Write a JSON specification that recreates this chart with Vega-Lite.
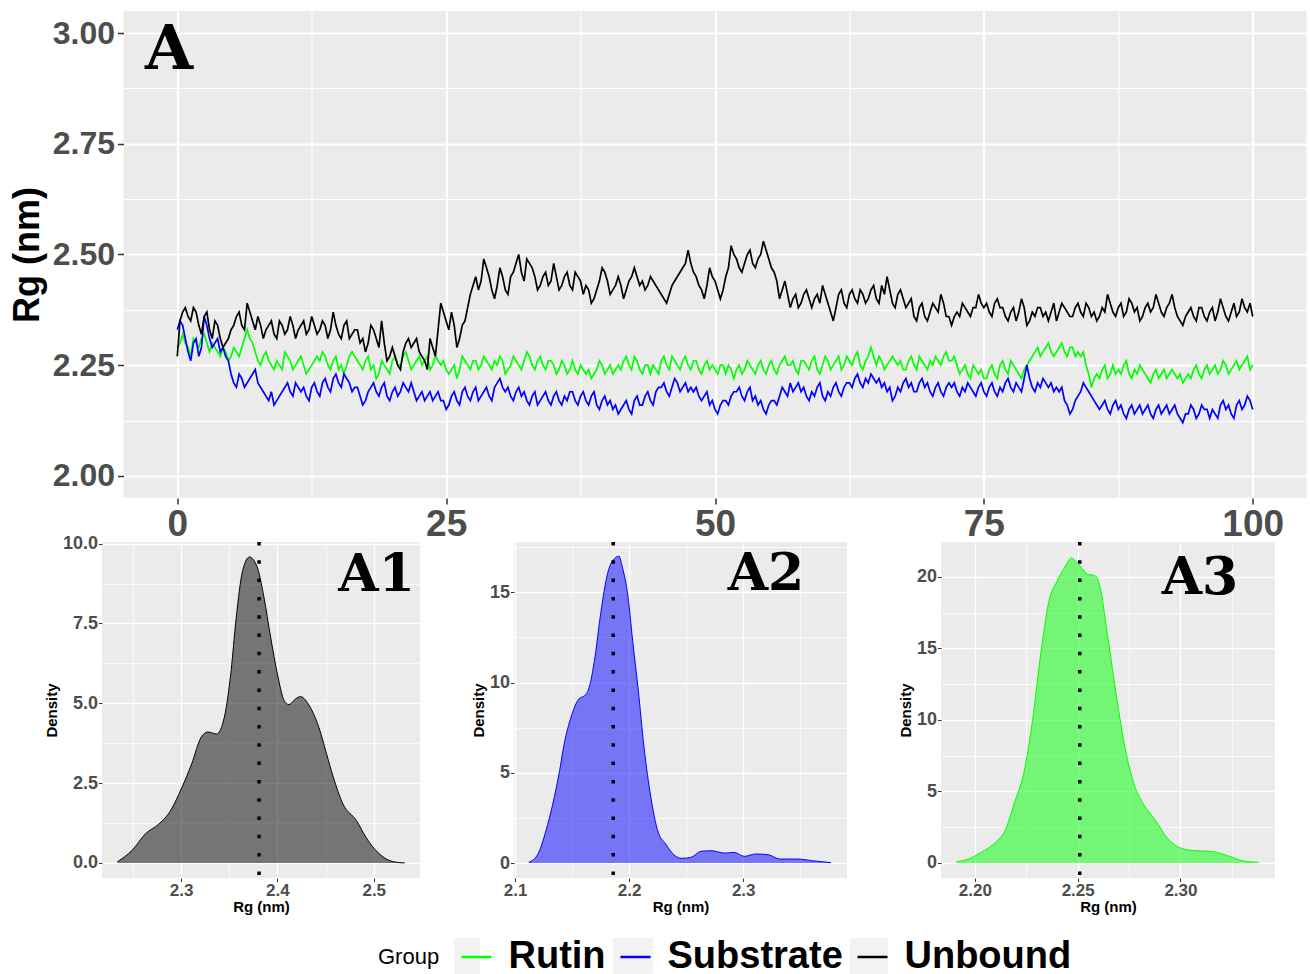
{
"$schema": "https://vega.github.io/schema/vega-lite/v6.json",
"padding": {"left": 9, "top": 11, "right": 2, "bottom": 0},
"background": "white",
"config": {
  "font": "Liberation Sans",
  "view": {"stroke": null},
  "axis": {"domain": false, "grid": true, "gridColor": "white", "tickColor": "#333333", "labelColor": "#4d4d4d", "labelFontWeight": "bold", "titleColor": "black", "titleFontWeight": "bold", "labelFont": "Liberation Sans", "titleFont": "Liberation Sans", "labelFlush": false, "labelOverlap": false}
},
"datasets": {
"ts": [
{"t":0,"Rutin":2.29,"Substrate":2.33,"Unbound":2.27},
{"t":0.5,"Rutin":2.32,"Substrate":2.34,"Unbound":2.37},
{"t":1,"Rutin":2.29,"Substrate":2.28,"Unbound":2.36},
{"t":1.5,"Rutin":2.31,"Substrate":2.30,"Unbound":2.38},
{"t":2,"Rutin":2.29,"Substrate":2.27,"Unbound":2.34},
{"t":2.5,"Rutin":2.32,"Substrate":2.36,"Unbound":2.36},
{"t":3,"Rutin":2.28,"Substrate":2.31,"Unbound":2.33},
{"t":3.5,"Rutin":2.29,"Substrate":2.30,"Unbound":2.35},
{"t":4,"Rutin":2.27,"Substrate":2.28,"Unbound":2.31},
{"t":4.5,"Rutin":2.28,"Substrate":2.27,"Unbound":2.30},
{"t":5,"Rutin":2.27,"Substrate":2.23,"Unbound":2.33},
{"t":5.5,"Rutin":2.28,"Substrate":2.20,"Unbound":2.36},
{"t":6,"Rutin":2.29,"Substrate":2.22,"Unbound":2.34},
{"t":6.5,"Rutin":2.33,"Substrate":2.21,"Unbound":2.39},
{"t":7,"Rutin":2.30,"Substrate":2.23,"Unbound":2.35},
{"t":7.5,"Rutin":2.26,"Substrate":2.21,"Unbound":2.36},
{"t":8,"Rutin":2.27,"Substrate":2.19,"Unbound":2.31},
{"t":8.5,"Rutin":2.26,"Substrate":2.17,"Unbound":2.34},
{"t":9,"Rutin":2.24,"Substrate":2.16,"Unbound":2.32},
{"t":9.5,"Rutin":2.25,"Substrate":2.18,"Unbound":2.35},
{"t":10,"Rutin":2.28,"Substrate":2.20,"Unbound":2.32},
{"t":10.5,"Rutin":2.26,"Substrate":2.19,"Unbound":2.36},
{"t":11,"Rutin":2.25,"Substrate":2.21,"Unbound":2.31},
{"t":11.5,"Rutin":2.27,"Substrate":2.19,"Unbound":2.34},
{"t":12,"Rutin":2.23,"Substrate":2.18,"Unbound":2.32},
{"t":12.5,"Rutin":2.25,"Substrate":2.20,"Unbound":2.36},
{"t":13,"Rutin":2.27,"Substrate":2.19,"Unbound":2.32},
{"t":13.5,"Rutin":2.28,"Substrate":2.21,"Unbound":2.35},
{"t":14,"Rutin":2.25,"Substrate":2.20,"Unbound":2.31},
{"t":14.5,"Rutin":2.26,"Substrate":2.22,"Unbound":2.37},
{"t":15,"Rutin":2.24,"Substrate":2.21,"Unbound":2.32},
{"t":15.5,"Rutin":2.23,"Substrate":2.23,"Unbound":2.34},
{"t":16,"Rutin":2.27,"Substrate":2.21,"Unbound":2.31},
{"t":16.5,"Rutin":2.27,"Substrate":2.20,"Unbound":2.33},
{"t":17,"Rutin":2.25,"Substrate":2.18,"Unbound":2.30},
{"t":17.5,"Rutin":2.26,"Substrate":2.17,"Unbound":2.28},
{"t":18,"Rutin":2.24,"Substrate":2.20,"Unbound":2.34},
{"t":18.5,"Rutin":2.22,"Substrate":2.19,"Unbound":2.31},
{"t":19,"Rutin":2.26,"Substrate":2.20,"Unbound":2.35},
{"t":19.5,"Rutin":2.24,"Substrate":2.18,"Unbound":2.26},
{"t":20,"Rutin":2.26,"Substrate":2.19,"Unbound":2.29},
{"t":20.5,"Rutin":2.25,"Substrate":2.18,"Unbound":2.25},
{"t":21,"Rutin":2.27,"Substrate":2.21,"Unbound":2.28},
{"t":21.5,"Rutin":2.26,"Substrate":2.19,"Unbound":2.31},
{"t":22,"Rutin":2.25,"Substrate":2.19,"Unbound":2.30},
{"t":22.5,"Rutin":2.27,"Substrate":2.18,"Unbound":2.28},
{"t":23,"Rutin":2.26,"Substrate":2.17,"Unbound":2.26},
{"t":23.5,"Rutin":2.24,"Substrate":2.19,"Unbound":2.31},
{"t":24,"Rutin":2.27,"Substrate":2.18,"Unbound":2.27},
{"t":24.5,"Rutin":2.25,"Substrate":2.17,"Unbound":2.39},
{"t":25,"Rutin":2.24,"Substrate":2.15,"Unbound":2.35},
{"t":25.5,"Rutin":2.24,"Substrate":2.18,"Unbound":2.37},
{"t":26,"Rutin":2.22,"Substrate":2.17,"Unbound":2.29},
{"t":26.5,"Rutin":2.27,"Substrate":2.19,"Unbound":2.34},
{"t":27,"Rutin":2.25,"Substrate":2.18,"Unbound":2.38},
{"t":27.5,"Rutin":2.26,"Substrate":2.19,"Unbound":2.43},
{"t":28,"Rutin":2.24,"Substrate":2.17,"Unbound":2.42},
{"t":28.5,"Rutin":2.27,"Substrate":2.19,"Unbound":2.49},
{"t":29,"Rutin":2.25,"Substrate":2.18,"Unbound":2.45},
{"t":29.5,"Rutin":2.26,"Substrate":2.20,"Unbound":2.40},
{"t":30,"Rutin":2.27,"Substrate":2.22,"Unbound":2.47},
{"t":30.5,"Rutin":2.23,"Substrate":2.19,"Unbound":2.42},
{"t":31,"Rutin":2.25,"Substrate":2.18,"Unbound":2.45},
{"t":31.5,"Rutin":2.26,"Substrate":2.19,"Unbound":2.48},
{"t":32,"Rutin":2.24,"Substrate":2.18,"Unbound":2.46},
{"t":32.5,"Rutin":2.28,"Substrate":2.17,"Unbound":2.49},
{"t":33,"Rutin":2.25,"Substrate":2.18,"Unbound":2.47},
{"t":33.5,"Rutin":2.26,"Substrate":2.16,"Unbound":2.42},
{"t":34,"Rutin":2.25,"Substrate":2.18,"Unbound":2.45},
{"t":34.5,"Rutin":2.26,"Substrate":2.17,"Unbound":2.43},
{"t":35,"Rutin":2.25,"Substrate":2.18,"Unbound":2.48},
{"t":35.5,"Rutin":2.24,"Substrate":2.17,"Unbound":2.42},
{"t":36,"Rutin":2.25,"Substrate":2.18,"Unbound":2.45},
{"t":36.5,"Rutin":2.24,"Substrate":2.19,"Unbound":2.43},
{"t":37,"Rutin":2.24,"Substrate":2.17,"Unbound":2.46},
{"t":37.5,"Rutin":2.25,"Substrate":2.18,"Unbound":2.44},
{"t":38,"Rutin":2.23,"Substrate":2.17,"Unbound":2.43},
{"t":38.5,"Rutin":2.22,"Substrate":2.18,"Unbound":2.39},
{"t":39,"Rutin":2.24,"Substrate":2.16,"Unbound":2.42},
{"t":39.5,"Rutin":2.25,"Substrate":2.17,"Unbound":2.47},
{"t":40,"Rutin":2.24,"Substrate":2.16,"Unbound":2.44},
{"t":40.5,"Rutin":2.23,"Substrate":2.15,"Unbound":2.42},
{"t":41,"Rutin":2.25,"Substrate":2.14,"Unbound":2.45},
{"t":41.5,"Rutin":2.26,"Substrate":2.16,"Unbound":2.40},
{"t":42,"Rutin":2.25,"Substrate":2.15,"Unbound":2.44},
{"t":42.5,"Rutin":2.27,"Substrate":2.17,"Unbound":2.47},
{"t":43,"Rutin":2.24,"Substrate":2.16,"Unbound":2.43},
{"t":43.5,"Rutin":2.25,"Substrate":2.18,"Unbound":2.42},
{"t":44,"Rutin":2.23,"Substrate":2.17,"Unbound":2.45},
{"t":44.5,"Rutin":2.24,"Substrate":2.19,"Unbound":2.43},
{"t":45,"Rutin":2.26,"Substrate":2.20,"Unbound":2.41},
{"t":45.5,"Rutin":2.25,"Substrate":2.19,"Unbound":2.39},
{"t":46,"Rutin":2.27,"Substrate":2.20,"Unbound":2.43},
{"t":46.5,"Rutin":2.25,"Substrate":2.21,"Unbound":2.45},
{"t":47,"Rutin":2.26,"Substrate":2.20,"Unbound":2.47},
{"t":47.5,"Rutin":2.25,"Substrate":2.19,"Unbound":2.51},
{"t":48,"Rutin":2.26,"Substrate":2.19,"Unbound":2.46},
{"t":48.5,"Rutin":2.24,"Substrate":2.18,"Unbound":2.43},
{"t":49,"Rutin":2.25,"Substrate":2.18,"Unbound":2.40},
{"t":49.5,"Rutin":2.24,"Substrate":2.16,"Unbound":2.47},
{"t":50,"Rutin":2.24,"Substrate":2.15,"Unbound":2.44},
{"t":50.5,"Rutin":2.25,"Substrate":2.16,"Unbound":2.40},
{"t":51,"Rutin":2.23,"Substrate":2.17,"Unbound":2.45},
{"t":51.5,"Rutin":2.24,"Substrate":2.18,"Unbound":2.52},
{"t":52,"Rutin":2.24,"Substrate":2.19,"Unbound":2.49},
{"t":52.5,"Rutin":2.23,"Substrate":2.18,"Unbound":2.46},
{"t":53,"Rutin":2.26,"Substrate":2.19,"Unbound":2.50},
{"t":53.5,"Rutin":2.24,"Substrate":2.17,"Unbound":2.48},
{"t":54,"Rutin":2.25,"Substrate":2.16,"Unbound":2.49},
{"t":54.5,"Rutin":2.24,"Substrate":2.15,"Unbound":2.53},
{"t":55,"Rutin":2.25,"Substrate":2.16,"Unbound":2.49},
{"t":55.5,"Rutin":2.24,"Substrate":2.17,"Unbound":2.46},
{"t":56,"Rutin":2.25,"Substrate":2.18,"Unbound":2.40},
{"t":56.5,"Rutin":2.27,"Substrate":2.19,"Unbound":2.44},
{"t":57,"Rutin":2.25,"Substrate":2.21,"Unbound":2.38},
{"t":57.5,"Rutin":2.24,"Substrate":2.20,"Unbound":2.41},
{"t":58,"Rutin":2.26,"Substrate":2.19,"Unbound":2.39},
{"t":58.5,"Rutin":2.25,"Substrate":2.18,"Unbound":2.42},
{"t":59,"Rutin":2.26,"Substrate":2.19,"Unbound":2.38},
{"t":59.5,"Rutin":2.24,"Substrate":2.20,"Unbound":2.41},
{"t":60,"Rutin":2.25,"Substrate":2.18,"Unbound":2.43},
{"t":60.5,"Rutin":2.26,"Substrate":2.19,"Unbound":2.39},
{"t":61,"Rutin":2.25,"Substrate":2.20,"Unbound":2.35},
{"t":61.5,"Rutin":2.27,"Substrate":2.19,"Unbound":2.41},
{"t":62,"Rutin":2.25,"Substrate":2.20,"Unbound":2.39},
{"t":62.5,"Rutin":2.26,"Substrate":2.21,"Unbound":2.41},
{"t":63,"Rutin":2.27,"Substrate":2.22,"Unbound":2.40},
{"t":63.5,"Rutin":2.25,"Substrate":2.21,"Unbound":2.42},
{"t":64,"Rutin":2.26,"Substrate":2.22,"Unbound":2.39},
{"t":64.5,"Rutin":2.29,"Substrate":2.23,"Unbound":2.42},
{"t":65,"Rutin":2.25,"Substrate":2.21,"Unbound":2.40},
{"t":65.5,"Rutin":2.26,"Substrate":2.20,"Unbound":2.43},
{"t":66,"Rutin":2.25,"Substrate":2.19,"Unbound":2.45},
{"t":66.5,"Rutin":2.27,"Substrate":2.17,"Unbound":2.39},
{"t":67,"Rutin":2.25,"Substrate":2.20,"Unbound":2.41},
{"t":67.5,"Rutin":2.24,"Substrate":2.21,"Unbound":2.40},
{"t":68,"Rutin":2.26,"Substrate":2.20,"Unbound":2.39},
{"t":68.5,"Rutin":2.25,"Substrate":2.19,"Unbound":2.36},
{"t":69,"Rutin":2.27,"Substrate":2.21,"Unbound":2.38},
{"t":69.5,"Rutin":2.25,"Substrate":2.20,"Unbound":2.36},
{"t":70,"Rutin":2.26,"Substrate":2.19,"Unbound":2.37},
{"t":70.5,"Rutin":2.27,"Substrate":2.20,"Unbound":2.38},
{"t":71,"Rutin":2.25,"Substrate":2.19,"Unbound":2.41},
{"t":71.5,"Rutin":2.28,"Substrate":2.20,"Unbound":2.36},
{"t":72,"Rutin":2.26,"Substrate":2.20,"Unbound":2.34},
{"t":72.5,"Rutin":2.25,"Substrate":2.19,"Unbound":2.37},
{"t":73,"Rutin":2.24,"Substrate":2.20,"Unbound":2.39},
{"t":73.5,"Rutin":2.23,"Substrate":2.21,"Unbound":2.37},
{"t":74,"Rutin":2.25,"Substrate":2.19,"Unbound":2.38},
{"t":74.5,"Rutin":2.23,"Substrate":2.20,"Unbound":2.41},
{"t":75,"Rutin":2.22,"Substrate":2.19,"Unbound":2.38},
{"t":75.5,"Rutin":2.24,"Substrate":2.20,"Unbound":2.37},
{"t":76,"Rutin":2.23,"Substrate":2.19,"Unbound":2.39},
{"t":76.5,"Rutin":2.25,"Substrate":2.20,"Unbound":2.38},
{"t":77,"Rutin":2.24,"Substrate":2.21,"Unbound":2.36},
{"t":77.5,"Rutin":2.26,"Substrate":2.20,"Unbound":2.37},
{"t":78,"Rutin":2.24,"Substrate":2.21,"Unbound":2.35},
{"t":78.5,"Rutin":2.22,"Substrate":2.19,"Unbound":2.40},
{"t":79,"Rutin":2.25,"Substrate":2.25,"Unbound":2.34},
{"t":79.5,"Rutin":2.27,"Substrate":2.20,"Unbound":2.37},
{"t":80,"Rutin":2.29,"Substrate":2.21,"Unbound":2.38},
{"t":80.5,"Rutin":2.28,"Substrate":2.22,"Unbound":2.36},
{"t":81,"Rutin":2.30,"Substrate":2.20,"Unbound":2.35},
{"t":81.5,"Rutin":2.27,"Substrate":2.19,"Unbound":2.39},
{"t":82,"Rutin":2.29,"Substrate":2.19,"Unbound":2.37},
{"t":82.5,"Rutin":2.28,"Substrate":2.17,"Unbound":2.38},
{"t":83,"Rutin":2.29,"Substrate":2.14,"Unbound":2.36},
{"t":83.5,"Rutin":2.27,"Substrate":2.17,"Unbound":2.38},
{"t":84,"Rutin":2.27,"Substrate":2.19,"Unbound":2.37},
{"t":84.5,"Rutin":2.25,"Substrate":2.20,"Unbound":2.39},
{"t":85,"Rutin":2.20,"Substrate":2.18,"Unbound":2.36},
{"t":85.5,"Rutin":2.23,"Substrate":2.16,"Unbound":2.35},
{"t":86,"Rutin":2.24,"Substrate":2.16,"Unbound":2.38},
{"t":86.5,"Rutin":2.22,"Substrate":2.15,"Unbound":2.41},
{"t":87,"Rutin":2.25,"Substrate":2.16,"Unbound":2.37},
{"t":87.5,"Rutin":2.24,"Substrate":2.15,"Unbound":2.38},
{"t":88,"Rutin":2.25,"Substrate":2.14,"Unbound":2.36},
{"t":88.5,"Rutin":2.23,"Substrate":2.15,"Unbound":2.40},
{"t":89,"Rutin":2.24,"Substrate":2.14,"Unbound":2.37},
{"t":89.5,"Rutin":2.25,"Substrate":2.16,"Unbound":2.35},
{"t":90,"Rutin":2.23,"Substrate":2.15,"Unbound":2.38},
{"t":90.5,"Rutin":2.21,"Substrate":2.14,"Unbound":2.37},
{"t":91,"Rutin":2.24,"Substrate":2.15,"Unbound":2.41},
{"t":91.5,"Rutin":2.23,"Substrate":2.14,"Unbound":2.37},
{"t":92,"Rutin":2.22,"Substrate":2.16,"Unbound":2.38},
{"t":92.5,"Rutin":2.24,"Substrate":2.15,"Unbound":2.41},
{"t":93,"Rutin":2.22,"Substrate":2.14,"Unbound":2.36},
{"t":93.5,"Rutin":2.21,"Substrate":2.12,"Unbound":2.34},
{"t":94,"Rutin":2.23,"Substrate":2.14,"Unbound":2.37},
{"t":94.5,"Rutin":2.24,"Substrate":2.15,"Unbound":2.36},
{"t":95,"Rutin":2.23,"Substrate":2.14,"Unbound":2.38},
{"t":95.5,"Rutin":2.24,"Substrate":2.15,"Unbound":2.36},
{"t":96,"Rutin":2.23,"Substrate":2.13,"Unbound":2.37},
{"t":96.5,"Rutin":2.25,"Substrate":2.14,"Unbound":2.35},
{"t":97,"Rutin":2.24,"Substrate":2.16,"Unbound":2.40},
{"t":97.5,"Rutin":2.25,"Substrate":2.15,"Unbound":2.36},
{"t":98,"Rutin":2.24,"Substrate":2.14,"Unbound":2.37},
{"t":98.5,"Rutin":2.26,"Substrate":2.16,"Unbound":2.36},
{"t":99,"Rutin":2.25,"Substrate":2.15,"Unbound":2.40},
{"t":99.5,"Rutin":2.27,"Substrate":2.18,"Unbound":2.37},
{"t":100,"Rutin":2.25,"Substrate":2.15,"Unbound":2.36},
{"t":0.25,"Rutin":2.30,"Substrate":2.35,"Unbound":2.35},
{"t":0.75,"Rutin":2.30,"Substrate":2.31,"Unbound":2.38},
{"t":1.25,"Rutin":2.27,"Substrate":2.26,"Unbound":2.35},
{"t":1.75,"Rutin":2.30,"Substrate":2.31,"Unbound":2.37},
{"t":2.25,"Rutin":2.31,"Substrate":2.29,"Unbound":2.32},
{"t":2.75,"Rutin":2.30,"Substrate":2.34,"Unbound":2.37},
{"t":3.25,"Rutin":2.30,"Substrate":2.29,"Unbound":2.31},
{"t":3.75,"Rutin":2.28,"Substrate":2.31,"Unbound":2.34},
{"t":4.25,"Rutin":2.29,"Substrate":2.29,"Unbound":2.29},
{"t":4.75,"Rutin":2.26,"Substrate":2.26,"Unbound":2.31},
{"t":5.25,"Rutin":2.29,"Substrate":2.21,"Unbound":2.34},
{"t":5.75,"Rutin":2.27,"Substrate":2.23,"Unbound":2.37},
{"t":6.25,"Rutin":2.31,"Substrate":2.20,"Unbound":2.33},
{"t":6.75,"Rutin":2.31,"Substrate":2.22,"Unbound":2.37},
{"t":7.25,"Rutin":2.28,"Substrate":2.24,"Unbound":2.33},
{"t":7.75,"Rutin":2.25,"Substrate":2.20,"Unbound":2.34},
{"t":8.25,"Rutin":2.28,"Substrate":2.18,"Unbound":2.33},
{"t":8.75,"Rutin":2.25,"Substrate":2.19,"Unbound":2.35},
{"t":9.25,"Rutin":2.26,"Substrate":2.17,"Unbound":2.31},
{"t":9.75,"Rutin":2.24,"Substrate":2.19,"Unbound":2.34},
{"t":10.25,"Rutin":2.27,"Substrate":2.21,"Unbound":2.33},
{"t":10.75,"Rutin":2.24,"Substrate":2.18,"Unbound":2.34},
{"t":11.25,"Rutin":2.26,"Substrate":2.20,"Unbound":2.33},
{"t":11.75,"Rutin":2.25,"Substrate":2.20,"Unbound":2.35},
{"t":12.25,"Rutin":2.24,"Substrate":2.17,"Unbound":2.33},
{"t":12.75,"Rutin":2.26,"Substrate":2.21,"Unbound":2.34},
{"t":13.25,"Rutin":2.26,"Substrate":2.18,"Unbound":2.33},
{"t":13.75,"Rutin":2.27,"Substrate":2.22,"Unbound":2.34},
{"t":14.25,"Rutin":2.24,"Substrate":2.19,"Unbound":2.33},
{"t":14.75,"Rutin":2.27,"Substrate":2.23,"Unbound":2.34},
{"t":15.25,"Rutin":2.25,"Substrate":2.20,"Unbound":2.31},
{"t":15.75,"Rutin":2.25,"Substrate":2.22,"Unbound":2.35},
{"t":16.25,"Rutin":2.28,"Substrate":2.19,"Unbound":2.32},
{"t":16.75,"Rutin":2.26,"Substrate":2.20,"Unbound":2.33},
{"t":17.25,"Rutin":2.24,"Substrate":2.16,"Unbound":2.31},
{"t":17.75,"Rutin":2.27,"Substrate":2.19,"Unbound":2.30},
{"t":18.25,"Rutin":2.25,"Substrate":2.21,"Unbound":2.33},
{"t":18.75,"Rutin":2.23,"Substrate":2.18,"Unbound":2.29},
{"t":19.25,"Rutin":2.25,"Substrate":2.21,"Unbound":2.30},
{"t":19.75,"Rutin":2.23,"Substrate":2.17,"Unbound":2.27},
{"t":20.25,"Rutin":2.27,"Substrate":2.20,"Unbound":2.27},
{"t":20.75,"Rutin":2.25,"Substrate":2.19,"Unbound":2.24},
{"t":21.25,"Rutin":2.28,"Substrate":2.20,"Unbound":2.30},
{"t":21.75,"Rutin":2.24,"Substrate":2.21,"Unbound":2.29},
{"t":22.25,"Rutin":2.26,"Substrate":2.17,"Unbound":2.31},
{"t":22.75,"Rutin":2.25,"Substrate":2.19,"Unbound":2.27},
{"t":23.25,"Rutin":2.27,"Substrate":2.18,"Unbound":2.24},
{"t":23.75,"Rutin":2.25,"Substrate":2.17,"Unbound":2.29},
{"t":24.25,"Rutin":2.26,"Substrate":2.19,"Unbound":2.33},
{"t":24.75,"Rutin":2.26,"Substrate":2.17,"Unbound":2.37},
{"t":25.25,"Rutin":2.23,"Substrate":2.16,"Unbound":2.33},
{"t":25.75,"Rutin":2.25,"Substrate":2.19,"Unbound":2.34},
{"t":26.25,"Rutin":2.24,"Substrate":2.16,"Unbound":2.31},
{"t":26.75,"Rutin":2.26,"Substrate":2.20,"Unbound":2.35},
{"t":27.25,"Rutin":2.24,"Substrate":2.17,"Unbound":2.41},
{"t":27.75,"Rutin":2.26,"Substrate":2.20,"Unbound":2.45},
{"t":28.25,"Rutin":2.25,"Substrate":2.18,"Unbound":2.44},
{"t":28.75,"Rutin":2.26,"Substrate":2.20,"Unbound":2.47},
{"t":29.25,"Rutin":2.24,"Substrate":2.17,"Unbound":2.42},
{"t":29.75,"Rutin":2.25,"Substrate":2.21,"Unbound":2.43},
{"t":30.25,"Rutin":2.26,"Substrate":2.20,"Unbound":2.45},
{"t":30.75,"Rutin":2.24,"Substrate":2.20,"Unbound":2.41},
{"t":31.25,"Rutin":2.27,"Substrate":2.17,"Unbound":2.46},
{"t":31.75,"Rutin":2.25,"Substrate":2.20,"Unbound":2.50},
{"t":32.25,"Rutin":2.26,"Substrate":2.19,"Unbound":2.44},
{"t":32.75,"Rutin":2.27,"Substrate":2.16,"Unbound":2.48},
{"t":33.25,"Rutin":2.24,"Substrate":2.19,"Unbound":2.45},
{"t":33.75,"Rutin":2.27,"Substrate":2.17,"Unbound":2.43},
{"t":34.25,"Rutin":2.24,"Substrate":2.19,"Unbound":2.46},
{"t":34.75,"Rutin":2.26,"Substrate":2.16,"Unbound":2.44},
{"t":35.25,"Rutin":2.23,"Substrate":2.19,"Unbound":2.45},
{"t":35.75,"Rutin":2.26,"Substrate":2.16,"Unbound":2.43},
{"t":36.25,"Rutin":2.23,"Substrate":2.17,"Unbound":2.46},
{"t":36.75,"Rutin":2.26,"Substrate":2.19,"Unbound":2.42},
{"t":37.25,"Rutin":2.23,"Substrate":2.16,"Unbound":2.45},
{"t":37.75,"Rutin":2.24,"Substrate":2.19,"Unbound":2.41},
{"t":38.25,"Rutin":2.24,"Substrate":2.16,"Unbound":2.42},
{"t":38.75,"Rutin":2.23,"Substrate":2.19,"Unbound":2.40},
{"t":39.25,"Rutin":2.26,"Substrate":2.15,"Unbound":2.44},
{"t":39.75,"Rutin":2.23,"Substrate":2.18,"Unbound":2.46},
{"t":40.25,"Rutin":2.25,"Substrate":2.17,"Unbound":2.41},
{"t":40.75,"Rutin":2.24,"Substrate":2.16,"Unbound":2.43},
{"t":41.25,"Rutin":2.24,"Substrate":2.15,"Unbound":2.43},
{"t":41.75,"Rutin":2.27,"Substrate":2.17,"Unbound":2.42},
{"t":42.25,"Rutin":2.24,"Substrate":2.14,"Unbound":2.45},
{"t":42.75,"Rutin":2.26,"Substrate":2.18,"Unbound":2.45},
{"t":43.25,"Rutin":2.23,"Substrate":2.16,"Unbound":2.44},
{"t":43.75,"Rutin":2.25,"Substrate":2.19,"Unbound":2.43},
{"t":44.25,"Rutin":2.25,"Substrate":2.16,"Unbound":2.44},
{"t":44.75,"Rutin":2.23,"Substrate":2.20,"Unbound":2.42},
{"t":45.25,"Rutin":2.27,"Substrate":2.21,"Unbound":2.40},
{"t":45.75,"Rutin":2.24,"Substrate":2.18,"Unbound":2.41},
{"t":46.25,"Rutin":2.26,"Substrate":2.22,"Unbound":2.44},
{"t":46.75,"Rutin":2.24,"Substrate":2.19,"Unbound":2.46},
{"t":47.25,"Rutin":2.27,"Substrate":2.21,"Unbound":2.48},
{"t":47.75,"Rutin":2.24,"Substrate":2.20,"Unbound":2.48},
{"t":48.25,"Rutin":2.26,"Substrate":2.20,"Unbound":2.45},
{"t":48.75,"Rutin":2.23,"Substrate":2.17,"Unbound":2.42},
{"t":49.25,"Rutin":2.26,"Substrate":2.19,"Unbound":2.43},
{"t":49.75,"Rutin":2.25,"Substrate":2.17,"Unbound":2.45},
{"t":50.25,"Rutin":2.23,"Substrate":2.14,"Unbound":2.42},
{"t":50.75,"Rutin":2.25,"Substrate":2.17,"Unbound":2.42},
{"t":51.25,"Rutin":2.25,"Substrate":2.16,"Unbound":2.47},
{"t":51.75,"Rutin":2.22,"Substrate":2.19,"Unbound":2.50},
{"t":52.25,"Rutin":2.25,"Substrate":2.20,"Unbound":2.47},
{"t":52.75,"Rutin":2.24,"Substrate":2.17,"Unbound":2.48},
{"t":53.25,"Rutin":2.25,"Substrate":2.20,"Unbound":2.51},
{"t":53.75,"Rutin":2.23,"Substrate":2.18,"Unbound":2.47},
{"t":54.25,"Rutin":2.26,"Substrate":2.17,"Unbound":2.50},
{"t":54.75,"Rutin":2.23,"Substrate":2.14,"Unbound":2.51},
{"t":55.25,"Rutin":2.26,"Substrate":2.17,"Unbound":2.47},
{"t":55.75,"Rutin":2.23,"Substrate":2.16,"Unbound":2.44},
{"t":56.25,"Rutin":2.26,"Substrate":2.20,"Unbound":2.42},
{"t":56.75,"Rutin":2.25,"Substrate":2.18,"Unbound":2.41},
{"t":57.25,"Rutin":2.26,"Substrate":2.19,"Unbound":2.40},
{"t":57.75,"Rutin":2.23,"Substrate":2.21,"Unbound":2.38},
{"t":58.25,"Rutin":2.26,"Substrate":2.20,"Unbound":2.41},
{"t":58.75,"Rutin":2.24,"Substrate":2.17,"Unbound":2.40},
{"t":59.25,"Rutin":2.27,"Substrate":2.18,"Unbound":2.40},
{"t":59.75,"Rutin":2.23,"Substrate":2.21,"Unbound":2.39},
{"t":60.25,"Rutin":2.27,"Substrate":2.17,"Unbound":2.41},
{"t":60.75,"Rutin":2.24,"Substrate":2.18,"Unbound":2.37},
{"t":61.25,"Rutin":2.26,"Substrate":2.21,"Unbound":2.38},
{"t":61.75,"Rutin":2.24,"Substrate":2.18,"Unbound":2.42},
{"t":62.25,"Rutin":2.27,"Substrate":2.21,"Unbound":2.38},
{"t":62.75,"Rutin":2.25,"Substrate":2.20,"Unbound":2.42},
{"t":63.25,"Rutin":2.28,"Substrate":2.23,"Unbound":2.39},
{"t":63.75,"Rutin":2.24,"Substrate":2.20,"Unbound":2.41},
{"t":64.25,"Rutin":2.27,"Substrate":2.21,"Unbound":2.40},
{"t":64.75,"Rutin":2.27,"Substrate":2.22,"Unbound":2.43},
{"t":65.25,"Rutin":2.27,"Substrate":2.22,"Unbound":2.39},
{"t":65.75,"Rutin":2.24,"Substrate":2.21,"Unbound":2.41},
{"t":66.25,"Rutin":2.26,"Substrate":2.20,"Unbound":2.42},
{"t":66.75,"Rutin":2.26,"Substrate":2.18,"Unbound":2.38},
{"t":67.25,"Rutin":2.26,"Substrate":2.19,"Unbound":2.42},
{"t":67.75,"Rutin":2.24,"Substrate":2.22,"Unbound":2.38},
{"t":68.25,"Rutin":2.27,"Substrate":2.21,"Unbound":2.40},
{"t":68.75,"Rutin":2.24,"Substrate":2.19,"Unbound":2.35},
{"t":69.25,"Rutin":2.26,"Substrate":2.22,"Unbound":2.39},
{"t":69.75,"Rutin":2.24,"Substrate":2.21,"Unbound":2.35},
{"t":70.25,"Rutin":2.25,"Substrate":2.18,"Unbound":2.39},
{"t":70.75,"Rutin":2.26,"Substrate":2.21,"Unbound":2.37},
{"t":71.25,"Rutin":2.27,"Substrate":2.18,"Unbound":2.39},
{"t":71.75,"Rutin":2.26,"Substrate":2.21,"Unbound":2.36},
{"t":72.25,"Rutin":2.27,"Substrate":2.21,"Unbound":2.36},
{"t":72.75,"Rutin":2.23,"Substrate":2.18,"Unbound":2.36},
{"t":73.25,"Rutin":2.25,"Substrate":2.19,"Unbound":2.38},
{"t":73.75,"Rutin":2.22,"Substrate":2.20,"Unbound":2.36},
{"t":74.25,"Rutin":2.24,"Substrate":2.18,"Unbound":2.38},
{"t":74.75,"Rutin":2.24,"Substrate":2.21,"Unbound":2.39},
{"t":75.25,"Rutin":2.22,"Substrate":2.18,"Unbound":2.39},
{"t":75.75,"Rutin":2.25,"Substrate":2.21,"Unbound":2.36},
{"t":76.25,"Rutin":2.22,"Substrate":2.18,"Unbound":2.40},
{"t":76.75,"Rutin":2.26,"Substrate":2.19,"Unbound":2.38},
{"t":77.25,"Rutin":2.23,"Substrate":2.22,"Unbound":2.35},
{"t":77.75,"Rutin":2.25,"Substrate":2.19,"Unbound":2.38},
{"t":78.25,"Rutin":2.23,"Substrate":2.20,"Unbound":2.37},
{"t":78.75,"Rutin":2.24,"Substrate":2.22,"Unbound":2.38},
{"t":79.25,"Rutin":2.26,"Substrate":2.22,"Unbound":2.35},
{"t":79.75,"Rutin":2.28,"Substrate":2.19,"Unbound":2.36},
{"t":80.25,"Rutin":2.27,"Substrate":2.20,"Unbound":2.38},
{"t":80.75,"Rutin":2.29,"Substrate":2.21,"Unbound":2.37},
{"t":81.25,"Rutin":2.28,"Substrate":2.21,"Unbound":2.37},
{"t":81.75,"Rutin":2.28,"Substrate":2.20,"Unbound":2.35},
{"t":82.25,"Rutin":2.30,"Substrate":2.20,"Unbound":2.39},
{"t":82.75,"Rutin":2.27,"Substrate":2.16,"Unbound":2.37},
{"t":83.25,"Rutin":2.29,"Substrate":2.15,"Unbound":2.36},
{"t":83.75,"Rutin":2.28,"Substrate":2.18,"Unbound":2.39},
{"t":84.25,"Rutin":2.28,"Substrate":2.21,"Unbound":2.36},
{"t":84.75,"Rutin":2.23,"Substrate":2.19,"Unbound":2.38},
{"t":85.25,"Rutin":2.22,"Substrate":2.17,"Unbound":2.37},
{"t":85.75,"Rutin":2.22,"Substrate":2.15,"Unbound":2.36},
{"t":86.25,"Rutin":2.25,"Substrate":2.17,"Unbound":2.37},
{"t":86.75,"Rutin":2.23,"Substrate":2.14,"Unbound":2.39},
{"t":87.25,"Rutin":2.23,"Substrate":2.17,"Unbound":2.36},
{"t":87.75,"Rutin":2.23,"Substrate":2.16,"Unbound":2.39},
{"t":88.25,"Rutin":2.26,"Substrate":2.13,"Unbound":2.37},
{"t":88.75,"Rutin":2.22,"Substrate":2.16,"Unbound":2.39},
{"t":89.25,"Rutin":2.23,"Substrate":2.15,"Unbound":2.38},
{"t":89.75,"Rutin":2.24,"Substrate":2.14,"Unbound":2.36},
{"t":90.25,"Rutin":2.22,"Substrate":2.16,"Unbound":2.39},
{"t":90.75,"Rutin":2.23,"Substrate":2.13,"Unbound":2.38},
{"t":91.25,"Rutin":2.22,"Substrate":2.16,"Unbound":2.39},
{"t":91.75,"Rutin":2.24,"Substrate":2.15,"Unbound":2.36},
{"t":92.25,"Rutin":2.23,"Substrate":2.14,"Unbound":2.39},
{"t":92.75,"Rutin":2.23,"Substrate":2.16,"Unbound":2.38},
{"t":93.25,"Rutin":2.23,"Substrate":2.13,"Unbound":2.35},
{"t":93.75,"Rutin":2.22,"Substrate":2.14,"Unbound":2.36},
{"t":94.25,"Rutin":2.22,"Substrate":2.16,"Unbound":2.38},
{"t":94.75,"Rutin":2.25,"Substrate":2.13,"Unbound":2.35},
{"t":95.25,"Rutin":2.22,"Substrate":2.16,"Unbound":2.38},
{"t":95.75,"Rutin":2.25,"Substrate":2.15,"Unbound":2.35},
{"t":96.25,"Rutin":2.24,"Substrate":2.15,"Unbound":2.38},
{"t":96.75,"Rutin":2.23,"Substrate":2.13,"Unbound":2.37},
{"t":97.25,"Rutin":2.26,"Substrate":2.17,"Unbound":2.38},
{"t":97.75,"Rutin":2.23,"Substrate":2.16,"Unbound":2.35},
{"t":98.25,"Rutin":2.25,"Substrate":2.13,"Unbound":2.39},
{"t":98.75,"Rutin":2.24,"Substrate":2.17,"Unbound":2.37},
{"t":99.25,"Rutin":2.26,"Substrate":2.16,"Unbound":2.38},
{"t":99.75,"Rutin":2.24,"Substrate":2.17,"Unbound":2.39}
],
"dU": [{"x":2.234,"d":0.04},{"x":2.249,"d":0.39},{"x":2.263,"d":0.91},{"x":2.277,"d":1.22},{"x":2.287,"d":1.54},{"x":2.301,"d":2.37},{"x":2.311,"d":3.10},{"x":2.321,"d":3.94},{"x":2.328,"d":4.10},{"x":2.337,"d":4.04},{"x":2.345,"d":4.57},{"x":2.352,"d":6.03},{"x":2.357,"d":7.60},{"x":2.364,"d":9.16},{"x":2.371,"d":9.58},{"x":2.379,"d":9.27},{"x":2.386,"d":8.33},{"x":2.393,"d":7.07},{"x":2.400,"d":5.92},{"x":2.407,"d":5.09},{"x":2.412,"d":4.96},{"x":2.419,"d":5.14},{"x":2.424,"d":5.21},{"x":2.432,"d":4.98},{"x":2.443,"d":4.25},{"x":2.451,"d":3.42},{"x":2.458,"d":2.69},{"x":2.468,"d":1.85},{"x":2.482,"d":1.33},{"x":2.492,"d":0.80},{"x":2.506,"d":0.28},{"x":2.520,"d":0.04},{"x":2.532,"d":0.0}],
"dS": [{"x":2.112,"d":0.04},{"x":2.120,"d":0.50},{"x":2.127,"d":1.79},{"x":2.133,"d":3.27},{"x":2.139,"d":5.12},{"x":2.143,"d":6.60},{"x":2.149,"d":8.08},{"x":2.156,"d":9.10},{"x":2.161,"d":9.28},{"x":2.165,"d":9.75},{"x":2.170,"d":11.41},{"x":2.175,"d":13.82},{"x":2.181,"d":16.03},{"x":2.187,"d":16.87},{"x":2.191,"d":17.0},{"x":2.194,"d":16.40},{"x":2.199,"d":14.74},{"x":2.203,"d":12.34},{"x":2.208,"d":9.56},{"x":2.213,"d":6.42},{"x":2.219,"d":3.64},{"x":2.225,"d":1.79},{"x":2.232,"d":1.05},{"x":2.240,"d":0.41},{"x":2.246,"d":0.26},{"x":2.254,"d":0.31},{"x":2.263,"d":0.65},{"x":2.272,"d":0.68},{"x":2.284,"d":0.55},{"x":2.292,"d":0.59},{"x":2.301,"d":0.37},{"x":2.311,"d":0.50},{"x":2.322,"d":0.46},{"x":2.332,"d":0.22},{"x":2.348,"d":0.22},{"x":2.360,"d":0.13},{"x":2.377,"d":0.02}],
"dR": [{"x":2.191,"d":0.09},{"x":2.197,"d":0.28},{"x":2.203,"d":0.74},{"x":2.210,"d":1.44},{"x":2.215,"d":2.37},{"x":2.219,"d":4.12},{"x":2.224,"d":6.44},{"x":2.228,"d":9.93},{"x":2.232,"d":14.58},{"x":2.236,"d":18.30},{"x":2.240,"d":19.70},{"x":2.244,"d":20.74},{"x":2.247,"d":21.33},{"x":2.249,"d":21.09},{"x":2.253,"d":20.44},{"x":2.255,"d":20.16},{"x":2.258,"d":20.12},{"x":2.261,"d":19.23},{"x":2.264,"d":16.44},{"x":2.268,"d":12.49},{"x":2.273,"d":8.07},{"x":2.278,"d":5.28},{"x":2.282,"d":4.12},{"x":2.288,"d":2.95},{"x":2.294,"d":1.67},{"x":2.300,"d":1.05},{"x":2.307,"d":0.86},{"x":2.315,"d":0.81},{"x":2.323,"d":0.51},{"x":2.330,"d":0.16},{"x":2.338,"d":0.05}],
"means": [{"g":"Rutin","m":2.251},{"g":"Substrate","m":2.186},{"g":"Unbound","m":2.381}]
},
"center": true,
"spacing": -9,
"resolve": {"scale": {"color": "independent"}, "legend": {"color": "independent"}},
"vconcat": [
{
  "width": 1183, "height": 487,
  "view": {"fill": "#ebebeb", "stroke": null},
  "layer": [
    {
      "data": {"name": "ts"},
      "transform": [{"fold": ["Rutin", "Substrate", "Unbound"], "as": ["Group", "rg"]}],
      "mark": {"type": "line", "strokeWidth": 1.7, "clip": true},
      "encoding": {
        "x": {"field": "t", "type": "quantitative", "scale": {"domain": [-5, 105], "nice": false, "zero": false},
          "axis": {"title": null, "values": [0, 12.5, 25, 37.5, 50, 62.5, 75, 87.5, 100],
            "labelExpr": "datum.value % 25 === 0 ? format(datum.value, 'd') : ''",
            "labelFontSize": 37, "labelPadding": 2, "tickSize": 6, "tickWidth": 1.5,
            "tickOpacity": {"condition": {"test": "datum.value % 25 !== 0", "value": 0}, "value": 1},
            "gridWidth": {"condition": {"test": "datum.value % 25 !== 0", "value": 1.1}, "value": 2.2}}},
        "y": {"field": "rg", "type": "quantitative", "scale": {"domain": [1.95, 3.05], "nice": false, "zero": false},
          "axis": {"title": "Rg (nm)", "titleFontSize": 36, "titlePadding": 6,
            "values": [2, 2.125, 2.25, 2.375, 2.5, 2.625, 2.75, 2.875, 3],
            "labelExpr": "abs(datum.value*4 - round(datum.value*4)) < 0.01 ? format(datum.value, '.2f') : ''",
            "labelFontSize": 32, "labelPadding": 3, "tickSize": 6, "tickWidth": 1.5,
            "tickOpacity": {"condition": {"test": "abs(datum.value*4 - round(datum.value*4)) > 0.01", "value": 0}, "value": 1},
            "gridWidth": {"condition": {"test": "abs(datum.value*4 - round(datum.value*4)) > 0.01", "value": 1.1}, "value": 2.2}}},
        "color": {"field": "Group", "type": "nominal", "scale": {"domain": ["Rutin", "Substrate", "Unbound"], "range": ["#00ff00", "#0000ff", "#000000"]}, "legend": null}
      }
    },
    {
      "data": {"values": [{}]},
      "mark": {"type": "text", "text": "A", "font": "DejaVu Serif", "fontWeight": "bold", "fontSize": 62, "color": "black", "align": "center", "baseline": "middle"},
      "encoding": {"x": {"datum": -0.77}, "y": {"datum": 2.961}}
    }
  ]
},
{
  "bounds": "flush",
  "spacing": 94,
  "resolve": {"scale": {"color": "independent"}, "legend": {"color": "independent"}},
  "hconcat": [
    {
      "width": 318, "height": 336,
      "view": {"fill": "#ebebeb", "stroke": null},
      "layer": [
        {
          "data": {"name": "dU"},
          "mark": {"type": "area", "color": "#000000", "fillOpacity": 0.5, "interpolate": "monotone", "line": {"color": "#000000", "strokeWidth": 1}},
          "encoding": {
            "x": {"field": "x", "type": "quantitative", "scale": {"domain": [2.218, 2.548], "nice": false, "zero": false},
              "axis": {"title": "Rg (nm)", "titleFontSize": 15, "titlePadding": 1, "values": [2.25, 2.3, 2.35, 2.4, 2.45, 2.5],
                "labelExpr": "abs(datum.value*10 - round(datum.value*10)) < 0.01 ? format(datum.value, '.1f') : ''",
                "labelFontSize": 17, "labelPadding": 1, "tickSize": 3.5,
                "tickOpacity": {"condition": {"test": "abs(datum.value*10 - round(datum.value*10)) > 0.01", "value": 0}, "value": 1},
                "gridWidth": {"condition": {"test": "abs(datum.value*10 - round(datum.value*10)) > 0.01", "value": 0.7}, "value": 1.4}}},
            "y": {"field": "d", "type": "quantitative", "scale": {"domain": [-0.47, 10.05], "nice": false, "zero": false},
              "axis": {"title": "Density", "titleFontSize": 15, "titlePadding": 3, "values": [0, 1.25, 2.5, 3.75, 5, 6.25, 7.5, 8.75, 10],
                "labelExpr": "abs(datum.value/2.5 - round(datum.value/2.5)) < 0.01 ? format(datum.value, '.1f') : ''",
                "labelFontSize": 18, "labelPadding": 1, "tickSize": 3.5,
                "tickOpacity": {"condition": {"test": "abs(datum.value/2.5 - round(datum.value/2.5)) > 0.01", "value": 0}, "value": 1},
                "gridWidth": {"condition": {"test": "abs(datum.value/2.5 - round(datum.value/2.5)) > 0.01", "value": 0.7}, "value": 1.4}}}
          }
        },
        {
          "data": {"name": "means"},
          "transform": [{"filter": "datum.g === 'Unbound'"}],
          "mark": {"type": "rule", "color": "black", "strokeWidth": 3.5, "strokeDash": [3.5, 14.8]},
          "encoding": {"x": {"field": "m", "type": "quantitative"}}
        },
        {
          "data": {"values": [{}]},
          "mark": {"type": "text", "text": "A1", "font": "DejaVu Serif", "fontWeight": "bold", "fontSize": 52, "color": "black", "align": "center", "baseline": "middle"},
          "encoding": {"x": {"datum": 2.503}, "y": {"datum": 9.03}}
        }
      ]
    },
    {
      "width": 333, "height": 336,
      "view": {"fill": "#ebebeb", "stroke": null},
      "layer": [
        {
          "data": {"name": "dS"},
          "mark": {"type": "area", "color": "#0000ff", "fillOpacity": 0.5, "interpolate": "monotone", "line": {"color": "#0000ff", "strokeWidth": 1}},
          "encoding": {
            "x": {"field": "x", "type": "quantitative", "scale": {"domain": [2.099, 2.391], "nice": false, "zero": false},
              "axis": {"title": "Rg (nm)", "titleFontSize": 15, "titlePadding": 1, "values": [2.1, 2.15, 2.2, 2.25, 2.3, 2.35],
                "labelExpr": "abs(datum.value*10 - round(datum.value*10)) < 0.01 ? format(datum.value, '.1f') : ''",
                "labelFontSize": 17, "labelPadding": 1, "tickSize": 3.5,
                "tickOpacity": {"condition": {"test": "abs(datum.value*10 - round(datum.value*10)) > 0.01", "value": 0}, "value": 1},
                "gridWidth": {"condition": {"test": "abs(datum.value*10 - round(datum.value*10)) > 0.01", "value": 0.7}, "value": 1.4}}},
            "y": {"field": "d", "type": "quantitative", "scale": {"domain": [-0.83, 17.79], "nice": false, "zero": false},
              "axis": {"title": "Density", "titleFontSize": 15, "titlePadding": 3, "values": [0, 2.5, 5, 7.5, 10, 12.5, 15, 17.5],
                "labelExpr": "abs(datum.value/5 - round(datum.value/5)) < 0.01 ? format(datum.value, 'd') : ''",
                "labelFontSize": 18, "labelPadding": 1, "tickSize": 3.5,
                "tickOpacity": {"condition": {"test": "abs(datum.value/5 - round(datum.value/5)) > 0.01", "value": 0}, "value": 1},
                "gridWidth": {"condition": {"test": "abs(datum.value/5 - round(datum.value/5)) > 0.01", "value": 0.7}, "value": 1.4}}}
          }
        },
        {
          "data": {"name": "means"},
          "transform": [{"filter": "datum.g === 'Substrate'"}],
          "mark": {"type": "rule", "color": "black", "strokeWidth": 3.5, "strokeDash": [3.5, 14.8]},
          "encoding": {"x": {"field": "m", "type": "quantitative"}}
        },
        {
          "data": {"values": [{}]},
          "mark": {"type": "text", "text": "A2", "font": "DejaVu Serif", "fontWeight": "bold", "fontSize": 52, "color": "black", "align": "center", "baseline": "middle"},
          "encoding": {"x": {"datum": 2.32}, "y": {"datum": 16.0}}
        },
        {
          "data": {"name": "means"},
          "mark": {"type": "line", "strokeOpacity": 0},
          "encoding": {
            "x": {"field": "m", "type": "quantitative"},
            "y": {"datum": 0},
            "color": {"field": "g", "type": "nominal", "scale": {"domain": ["Rutin", "Substrate", "Unbound"], "range": ["#00ff00", "#0000ff", "#000000"]},
              "legend": {"orient": "none", "legendX": -136, "legendY": 396, "direction": "horizontal", "title": "Group", "titleOrient": "left",
                "titleAnchor": "middle", "titleBaseline": "middle",
                "titleFontSize": 22, "titleFontWeight": "normal", "titleColor": "black", "titlePadding": 14,
                "labelFontSize": 38, "labelFontWeight": "bold", "labelColor": "black", "labelLimit": 400, "labelOffset": 13,
                "symbolType": "stroke", "symbolSize": 900, "symbolStrokeWidth": 2.5, "symbolOffset": 3.5, "columnPadding": 7,
                "encode": {"entries": {"update": {"fill": {"signal": "{gradient: 'linear', x1: 0, y1: 0, x2: 1, y2: 0, stops: [{offset: 0, color: '#f2f2f2'}, {offset: datum.value === 'Rutin' ? 0.251 : (datum.value === 'Substrate' ? 0.164 : 0.173), color: '#f2f2f2'}, {offset: datum.value === 'Rutin' ? 0.251 : (datum.value === 'Substrate' ? 0.164 : 0.173), color: '#ffffff'}, {offset: 1, color: '#ffffff'}]}"}}}}}}
          }
        }
      ]
    },
    {
      "width": 334, "height": 336,
      "view": {"fill": "#ebebeb", "stroke": null},
      "title": {"text": " ", "orient": "right", "offset": 40, "fontSize": 12},
      "layer": [
        {
          "data": {"name": "dR"},
          "mark": {"type": "area", "color": "#00ff00", "fillOpacity": 0.5, "interpolate": "monotone", "line": {"color": "#00ff00", "strokeWidth": 1}},
          "encoding": {
            "x": {"field": "x", "type": "quantitative", "scale": {"domain": [2.1835, 2.346], "nice": false, "zero": false},
              "axis": {"title": "Rg (nm)", "titleFontSize": 15, "titlePadding": 1, "values": [2.2, 2.225, 2.25, 2.275, 2.3, 2.325],
                "labelExpr": "abs(datum.value*20 - round(datum.value*20)) < 0.01 ? format(datum.value, '.2f') : ''",
                "labelFontSize": 17, "labelPadding": 1, "tickSize": 3.5,
                "tickOpacity": {"condition": {"test": "abs(datum.value*20 - round(datum.value*20)) > 0.01", "value": 0}, "value": 1},
                "gridWidth": {"condition": {"test": "abs(datum.value*20 - round(datum.value*20)) > 0.01", "value": 0.7}, "value": 1.4}}},
            "y": {"field": "d", "type": "quantitative", "scale": {"domain": [-1.05, 22.44], "nice": false, "zero": false},
              "axis": {"title": "Density", "titleFontSize": 15, "titlePadding": 3, "values": [0, 2.5, 5, 7.5, 10, 12.5, 15, 17.5, 20],
                "labelExpr": "abs(datum.value/5 - round(datum.value/5)) < 0.01 ? format(datum.value, 'd') : ''",
                "labelFontSize": 18, "labelPadding": 1, "tickSize": 3.5,
                "tickOpacity": {"condition": {"test": "abs(datum.value/5 - round(datum.value/5)) > 0.01", "value": 0}, "value": 1},
                "gridWidth": {"condition": {"test": "abs(datum.value/5 - round(datum.value/5)) > 0.01", "value": 0.7}, "value": 1.4}}}
          }
        },
        {
          "data": {"name": "means"},
          "transform": [{"filter": "datum.g === 'Rutin'"}],
          "mark": {"type": "rule", "color": "black", "strokeWidth": 3.5, "strokeDash": [3.5, 14.8]},
          "encoding": {"x": {"field": "m", "type": "quantitative"}}
        },
        {
          "data": {"values": [{}]},
          "mark": {"type": "text", "text": "A3", "font": "DejaVu Serif", "fontWeight": "bold", "fontSize": 52, "color": "black", "align": "center", "baseline": "middle"},
          "encoding": {"x": {"datum": 2.3095}, "y": {"datum": 19.9}}
        }
      ]
    }
  ]
}
]
}
